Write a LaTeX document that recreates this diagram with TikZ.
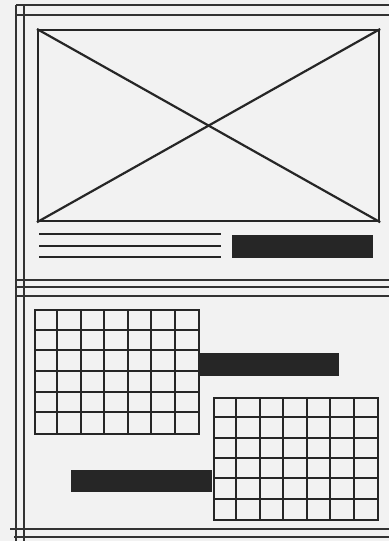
\documentclass[tikz,border=0pt]{standalone}
\usepackage{tikz}
\usetikzlibrary{positioning, calc}
\tikzset{
    frameline/.style = {
        line width=1.7pt, color=black!80
    },
    photo/.style = {
        rectangle, draw, line width=2.2pt, color=black!85,
        minimum width=341pt,
        minimum height=191pt,
        anchor=north west, inner sep=0pt
    },
    bar/.style = {
        rectangle, fill=black!85,
        minimum width=141pt,
        minimum height=23pt,
        anchor=north west, inner sep=0pt
    },
    table/.style = {
        rectangle, draw, line width=1.9pt, color=black!85,
        minimum width=164pt,
        anchor=north west, inner sep=0pt
    },
    cell/.style = {
        line width=1.9pt, color=black!85
    }
}
\begin{document}
\begin{tikzpicture}[x=1pt, y=-1pt]

% page and margins
\fill[black!5] (0,0) rectangle (389,541);
\useasboundingbox (0,0) rectangle (389,541);

% frame lines
\draw [frameline] (16,5) -- (389,5);
\draw [frameline] (16,15) -- (389,15);
\draw [frameline] (16,5) -- (16,541);
\draw [frameline] (24,5) -- (24,541);
\draw [frameline] (16,280) -- (389,280);
\draw [frameline] (16,287) -- (389,287);
\draw [frameline] (16,296) -- (389,296);
\draw [frameline] (10,529) -- (389,529);
\draw [frameline] (14,537) -- (389,537);

% upper block
\node (photo) [photo] at (37,29) {};
\draw [cell, line width=2.2pt] (photo.north west) -- (photo.south east);
\draw [cell, line width=2.2pt] (photo.south west) -- (photo.north east);

\foreach \y in {234,246,257}
    \draw [cell] (39,\y) -- (221,\y);
\node (caption) [bar] at (232,235) {};

% lower block
\node (tablea) [table, minimum height=124pt] at (34,309) {};
\foreach \i in {1,...,6}
    \draw [cell] ($(tablea.north west)+(\i*164/7,0)$) -- ($(tablea.south west)+(\i*164/7,0)$);
\foreach \j in {1,...,5}
    \draw [cell] ($(tablea.north west)+(0,\j*124/6)$) -- ($(tablea.north east)+(0,\j*124/6)$);

\node (bara) [bar] at (198,353) {};

\node (tableb) [table, minimum height=122pt] at (213,397) {};
\foreach \i in {1,...,6}
    \draw [cell] ($(tableb.north west)+(\i*164/7,0)$) -- ($(tableb.south west)+(\i*164/7,0)$);
\foreach \j in {1,...,5}
    \draw [cell] ($(tableb.north west)+(0,\j*122/6)$) -- ($(tableb.north east)+(0,\j*122/6)$);

\node (barb) [bar, minimum height=22pt] at (71,470) {};

\end{tikzpicture}
\end{document}
